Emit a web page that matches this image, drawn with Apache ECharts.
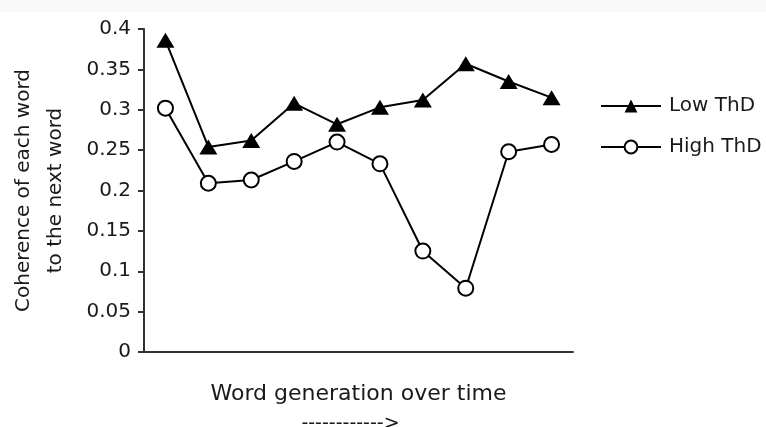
<!DOCTYPE html>
<html>
<head>
<meta charset="utf-8">
<script src="https://cdn.jsdelivr.net/npm/echarts@6/dist/echarts.min.js"></script>
<style>
html,body{margin:0;padding:0;background:#fff;}
#chart{width:766px;height:427px;}
</style>
</head>
<body>
<div id="chart"></div>
<script>
var categories = ['1','2','3','4','5','6','7','8','9','10'];
var lowThD = [0.386, 0.254, 0.262, 0.308, 0.282, 0.303, 0.312, 0.357, 0.335, 0.315];
var highThD = [0.302, 0.209, 0.213, 0.236, 0.260, 0.233, 0.125, 0.079, 0.248, 0.257];
var yTicks = { min: 0, max: 0.4, interval: 0.05 };
var seriesNames = ['Low ThD', 'High ThD'];

var font = 'DejaVu Sans, Liberation Sans, Arial, sans-serif';
var ink = '#1a1a1a';

var chart = echarts.init(document.getElementById('chart'), null, {renderer: 'canvas'});
chart.setOption({
  animation: false,
  backgroundColor: '#ffffff',
  graphic: [
    {type: 'rect', shape: {x: 0, y: 0, width: 766, height: 12}, style: {fill: '#f9f9f9'}, z: -10}
  ],
  grid: {left: 144, right: 193, top: 29, bottom: 75, containLabel: false, outerBoundsMode: 'none'},
  legend: {
    orient: 'vertical',
    left: 600,
    top: 96,
    padding: 0,
    itemWidth: 60,
    itemHeight: 16,
    itemGap: 21,
    textStyle: {fontFamily: font, fontSize: 20, color: ink, padding: [0, 0, 0, 3]},
    data: seriesNames
  },
  xAxis: {
    type: 'category',
    data: categories,
    boundaryGap: true,
    axisLine: {lineStyle: {color: '#333', width: 2}},
    axisTick: {show: false},
    axisLabel: {show: false},
    splitLine: {show: false},
    name: '{a|Word generation over time}\n{b|------------>}',
    nameLocation: 'middle',
    nameGap: 22,
    nameTextStyle: {
      rich: {
        a: {fontFamily: font, fontSize: 22, color: ink, lineHeight: 40},
        b: {fontFamily: font, fontSize: 19, color: ink, lineHeight: 20, padding: [0, 16, 0, 0]}
      }
    }
  },
  yAxis: {
    type: 'value',
    min: yTicks.min,
    max: yTicks.max,
    interval: yTicks.interval,
    axisLine: {show: true, lineStyle: {color: '#333', width: 2}},
    axisTick: {show: true, length: 6, lineStyle: {color: '#333', width: 2}},
    axisLabel: {fontFamily: font, fontSize: 20, color: ink, margin: 13},
    splitLine: {show: false},
    name: 'Coherence of each word\nto the next word',
    nameLocation: 'middle',
    nameGap: 72,
    nameRotate: 90,
    nameTextStyle: {fontFamily: font, fontSize: 20, color: ink, lineHeight: 32}
  },
  series: [
    {
      name: seriesNames[0],
      type: 'line',
      data: lowThD,
      symbol: 'triangle',
      symbolSize: [18, 15],
      showAllSymbol: true,
      lineStyle: {color: '#000', width: 2},
      itemStyle: {color: '#000', borderColor: '#000', borderWidth: 0},
      z: 3
    },
    {
      name: seriesNames[1],
      type: 'line',
      data: highThD,
      symbol: 'circle',
      symbolSize: 15,
      showAllSymbol: true,
      lineStyle: {color: '#000', width: 2},
      itemStyle: {color: '#fff', borderColor: '#000', borderWidth: 2},
      z: 4
    }
  ]
});
</script>
</body>
</html>
